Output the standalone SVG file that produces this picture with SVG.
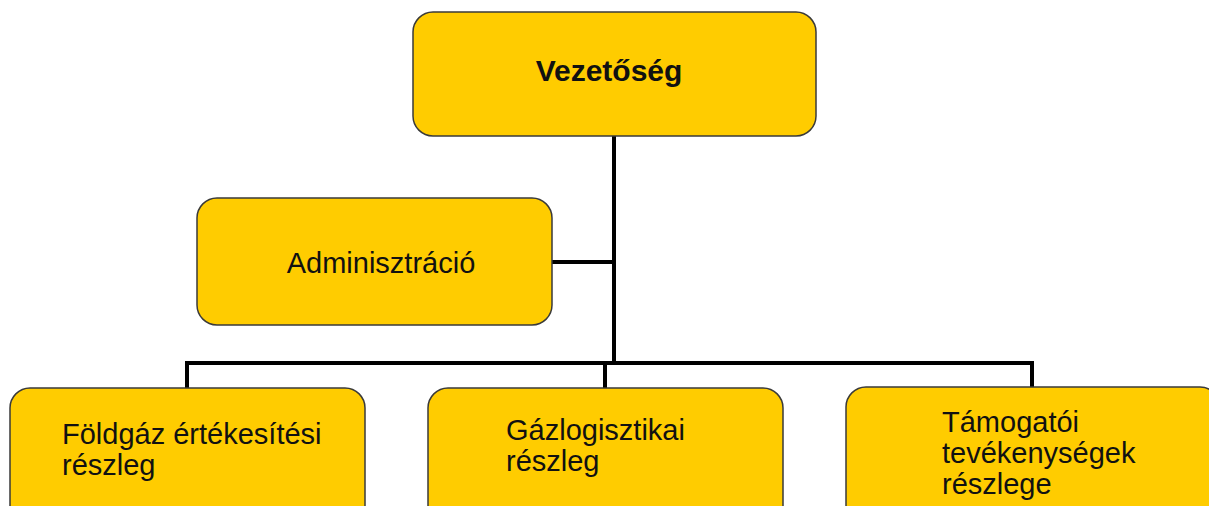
<svg xmlns="http://www.w3.org/2000/svg" width="1209" height="506" viewBox="0 0 1209 506">
<style>
.box{fill:#FFCC00;stroke:#3a3a3a;stroke-width:1.5}
.t{font-family:"Liberation Sans",Arial,sans-serif;font-size:29px;fill:#111}
.b{font-weight:bold;font-size:30px}
.c{fill:none;stroke:#000;stroke-width:4}
</style>
<rect width="1209" height="506" fill="#fff"/>
<g id="connectors">
<path class="c" d="M614 136V363"/>
<path class="c" d="M552 262H614"/>
<path class="c" d="M185 363H1034"/>
<path class="c" d="M187 361V388"/>
<path class="c" d="M605 361V388"/>
<path class="c" d="M1032 361V388"/>
</g>
<g id="vezetoseg">
<rect class="box" x="413" y="12" width="403" height="124" rx="20"/>
<text class="t b" x="609" y="81" text-anchor="middle">Vezetőség</text>
</g>
<g id="adminisztracio">
<rect class="box" x="197" y="198" width="355" height="127" rx="20"/>
<text class="t" x="381" y="273" text-anchor="middle">Adminisztráció</text>
</g>
<g id="foldgaz">
<rect class="box" x="10" y="388" width="355" height="140" rx="20"/>
<text class="t" x="62" y="444">Földgáz értékesítési</text>
<text class="t" x="62" y="475">részleg</text>
</g>
<g id="gazlogisztikai">
<rect class="box" x="428" y="388" width="355" height="140" rx="20"/>
<text class="t" x="506" y="440">Gázlogisztikai</text>
<text class="t" x="506" y="471">részleg</text>
</g>
<g id="tamogatoi">
<rect class="box" x="846" y="387" width="374" height="140" rx="20"/>
<text class="t" x="942" y="432">Támogatói</text>
<text class="t" x="942" y="463">tevékenységek</text>
<text class="t" x="942" y="494">részlege</text>
</g>
</svg>
